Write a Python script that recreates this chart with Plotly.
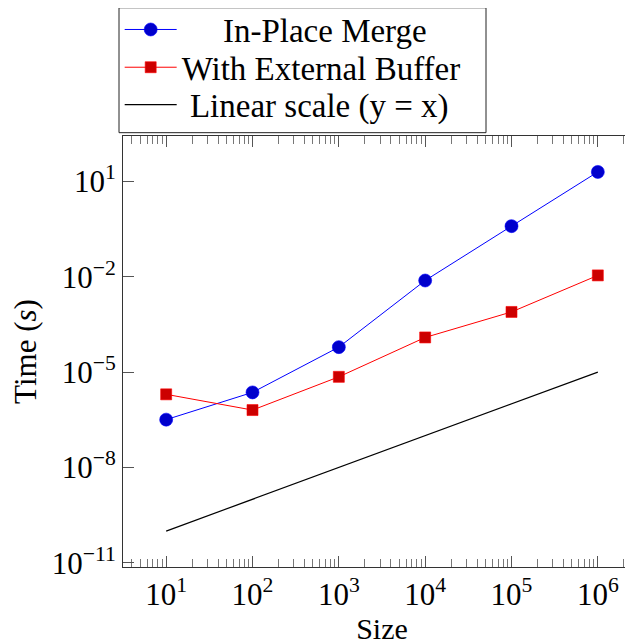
import plotly.graph_objects as go

sizes = [10, 100, 1000, 10000, 100000, 1000000]
inplace_times = [3.2e-7, 2.3e-6, 6.1e-5, 7.6e-3, 0.39, 19.8]
buffer_times = [2.0e-6, 6.4e-7, 7.1e-6, 1.23e-4, 7.8e-4, 1.1e-2]
linear_ref = [1e-10, 1e-9, 1e-8, 1e-7, 1e-6, 1e-5]

names = ["In-Place Merge", "With External Buffer", "Linear scale (y = x)"]

x_tickvals = [10, 100, 1000, 10000, 100000, 1000000]
x_ticktext = ["10<sup>1</sup>", "10<sup>2</sup>", "10<sup>3</sup>", "10<sup>4</sup>", "10<sup>5</sup>", "10<sup>6</sup>"]
y_tickvals = [1e1, 1e-2, 1e-5, 1e-8, 1e-11]
y_ticktext = ["10<sup>1</sup>", "10<sup>\u22122</sup>", "10<sup>\u22125</sup>", "10<sup>\u22128</sup>", "10<sup>\u221211</sup>"]

FONT = "Liberation Serif, Times New Roman, serif"
NB = "\u00a0"

fig = go.Figure()
fig.add_trace(go.Scatter(
    x=sizes, y=inplace_times, name=NB * 5 + names[0], mode="lines+markers",
    line=dict(color="#0000ff", width=1),
    marker=dict(symbol="circle", size=13, color="#0000cc", line=dict(color="#0000ff", width=0.6)),
    legend="legend",
))
fig.add_trace(go.Scatter(
    x=sizes, y=buffer_times, name=names[1], mode="lines+markers",
    line=dict(color="#ff0000", width=1),
    marker=dict(symbol="square", size=11, color="#cc0000", line=dict(color="#ff0000", width=0.6)),
    legend="legend2",
))
fig.add_trace(go.Scatter(
    x=sizes, y=linear_ref, name=NB + names[2], mode="lines",
    line=dict(color="black", width=1.2),
    legend="legend3",
))

def leg(y):
    return dict(
        x=-0.0064, y=y, xanchor="left", yanchor="top",
        bgcolor="rgba(0,0,0,0)", borderwidth=0,
        font=dict(family=FONT, size=33, color="black"),
        itemwidth=52,
    )

fig.update_layout(
    width=633, height=643,
    margin=dict(l=115, r=0, t=128, b=84, autoexpand=False),
    paper_bgcolor="white", plot_bgcolor="white",
    font=dict(family=FONT, size=31, color="black"),
    showlegend=True,
    legend=leg(1.312),
    legend2=leg(1.2244),
    legend3=leg(1.1378),
    shapes=[dict(
        type="rect", xref="paper", yref="paper",
        x0=-0.0077, x1=0.7008, y0=1.0077, y1=1.2975,
        line=dict(color="#222", width=1), fillcolor="white", layer="below",
    )],
)
fig.update_xaxes(
    type="log", range=[0.5, 6.5],
    showline=True, linecolor="#333", linewidth=1, mirror="ticks",
    ticks="inside", ticklen=11, tickcolor="#555", tickwidth=1,
    tickvals=x_tickvals, ticktext=x_ticktext, showgrid=False, zeroline=False,
    minor=dict(ticks="inside", ticklen=8, tickcolor="#777", dtick="D1", showgrid=False),
    tickfont=dict(family=FONT, size=31, color="black"),
    title=dict(text="Size", font=dict(family=FONT, size=30, color="black"), standoff=0),
)
fig.update_yaxes(
    type="log", range=[-11.13, 2.426],
    showline=True, linecolor="#333", linewidth=1, mirror="ticks",
    ticks="inside", ticklen=11, tickcolor="#555", tickwidth=1,
    tickvals=y_tickvals, ticktext=y_ticktext, showgrid=False, zeroline=False,
    tickfont=dict(family=FONT, size=31, color="black"),
    title=dict(text="Time (<i>s</i>)", font=dict(family=FONT, size=31, color="black"), standoff=6),
)

fig.write_html("out.html")
